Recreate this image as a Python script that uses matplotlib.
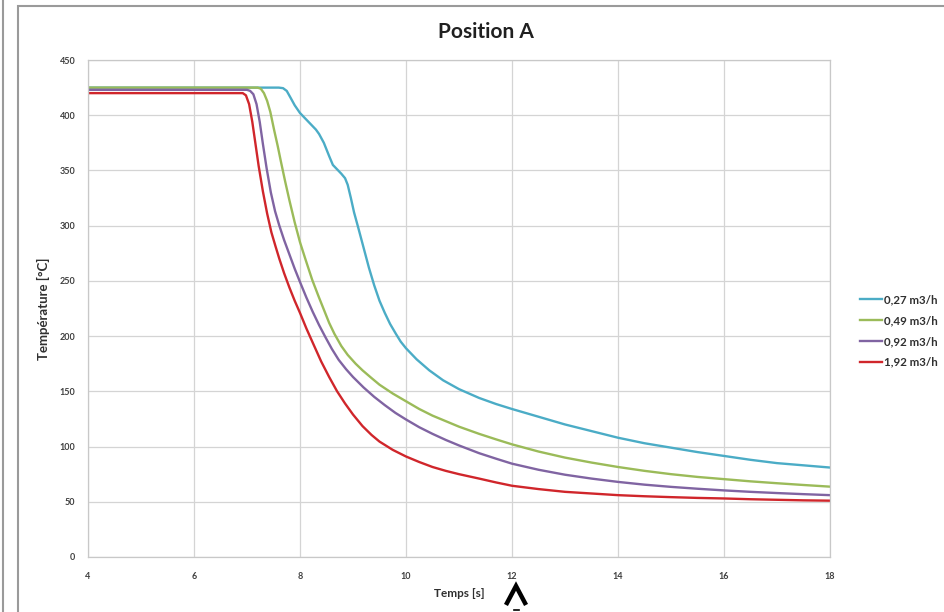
import matplotlib
matplotlib.use("Agg")
import matplotlib.pyplot as plt
from matplotlib.lines import Line2D
from matplotlib.patches import Rectangle

plt.rcParams['font.family'] = ['Lato', 'DejaVu Sans']

# ---- data ----
labels = ["0,27 m3/h", "0,49 m3/h", "0,92 m3/h", "1,92 m3/h"]
colors = ["#4BACC6", "#9BBB59", "#8064A2", "#D0262B"]

t_027 = [4, 7.6, 7.68, 7.75, 7.82, 7.9, 8.0, 8.1, 8.2, 8.3, 8.36, 8.45, 8.55, 8.62,
         8.7, 8.78, 8.85, 8.9, 8.96, 9.02, 9.1, 9.2, 9.3, 9.4, 9.5, 9.6, 9.7, 9.81,
         9.9, 10, 10.2, 10.44, 10.7, 11, 11.38, 11.7, 12, 12.5, 13, 13.5, 14, 14.5,
         15, 15.5, 16, 16.5, 17, 17.5, 18]
T_027 = [425, 425, 424.5, 422, 416, 409, 402, 397, 392, 387, 383, 375, 363, 355,
         351, 347, 343, 337, 325, 312, 298, 280, 262, 246, 232, 221, 211, 202,
         195, 189, 179, 169, 160, 152, 144, 138.5, 134, 127, 120, 114, 108, 103,
         99, 95, 91.5, 88, 85, 83, 81]

t_049 = [4, 7.2, 7.26, 7.32, 7.38, 7.44, 7.51, 7.58, 7.64, 7.72, 7.8, 7.9, 8.0, 8.1,
         8.23, 8.35, 8.45, 8.55, 8.65, 8.78, 8.9, 9.05, 9.18, 9.35, 9.5, 9.75, 10,
         10.25, 10.5, 10.75, 11, 11.38, 11.7, 12, 12.5, 13, 13.5, 14, 14.5, 15,
         15.5, 16, 16.5, 17, 17.5, 18]
T_049 = [425, 425, 424, 420, 413, 403, 387, 372, 358, 340, 323, 303, 285, 270,
         251, 236, 224, 212, 202, 191, 183, 175, 169, 162, 156, 148, 141,
         134, 128, 123, 118, 111.5, 106.5, 102, 95.5, 90, 85.5, 81.5, 78, 75,
         72.5, 70.5, 68.5, 66.8, 65.2, 63.7]

t_092 = [4, 7.0, 7.06, 7.12, 7.18, 7.24, 7.3, 7.37, 7.45, 7.53, 7.61, 7.7, 7.8, 7.9,
         8.0, 8.12, 8.24, 8.36, 8.48, 8.6, 8.73, 8.87, 9.0, 9.2, 9.4, 9.6, 9.8, 10,
         10.25, 10.5, 10.75, 11, 11.38, 11.7, 12, 12.5, 13, 13.5, 14, 14.5, 15,
         15.5, 16, 16.5, 17, 17.5, 18]
T_092 = [423, 423, 422, 419, 410, 394, 374, 352, 330, 313, 300, 287, 274, 261,
         249, 235, 222, 210, 199, 188.5, 178.5, 170, 163, 153.5, 145, 137.5, 130.5, 124.5,
         117.5, 111.5, 106, 101, 94, 89, 84.5, 79, 74.5, 71, 68, 65.5, 63.5,
         61.8, 60.3, 59, 57.9, 56.9, 56]

t_192 = [4, 6.92, 6.98, 7.04, 7.1, 7.16, 7.22, 7.3, 7.38, 7.46, 7.54, 7.61, 7.7, 7.8,
         7.9, 8.0, 8.12, 8.25, 8.4, 8.55, 8.7, 8.85, 9.0, 9.18, 9.35, 9.5, 9.75, 10,
         10.25, 10.5, 10.75, 11, 11.38, 11.7, 12, 12.5, 13, 13.5, 14, 14.5, 15,
         15.5, 16, 16.5, 17, 17.5, 18]
T_192 = [420, 420, 418, 410, 394, 374, 354, 331, 311, 294, 281, 270, 257, 244,
         232, 221, 207, 193, 177, 163, 150, 139, 129, 118.5, 110.5, 104.5, 97, 91,
         86, 81.5, 78, 75, 71, 67.5, 64.5, 61.5, 59, 57.5, 56, 55, 54.2,
         53.5, 53, 52.3, 51.8, 51.3, 51]

x_ticks = [4, 6, 8, 10, 12, 14, 16, 18]
y_ticks = [0, 50, 100, 150, 200, 250, 300, 350, 400, 450]

series = [(t_027, T_027), (t_049, T_049), (t_092, T_092), (t_192, T_192)]

W, H = 944, 612
fig = plt.figure(figsize=(W / 100, H / 100), dpi=100)
fig.patch.set_facecolor("white")

# chart frame & left bar
fig.add_artist(Rectangle((18 / W, -0.05), (W - 18) / W + 0.05, 1 - 6 / H + 0.05,
                         transform=fig.transFigure, fill=False,
                         edgecolor="#9a9a9a", linewidth=1.5))
fig.add_artist(Line2D([2.5 / W, 2.5 / W], [0, 1], transform=fig.transFigure,
                      color="#9a9a9a", linewidth=1.5))

ax = fig.add_axes([88 / W, (H - 557) / H, (830 - 88) / W, (557 - 60) / H])
for (t, T), c, lab in zip(series, colors, labels):
    ax.plot(t, T, color=c, linewidth=1.7, label=lab, solid_joinstyle="round")

ax.set_xlim(4, 18)
ax.set_ylim(0, 450)
ax.set_xticks(x_ticks)
ax.set_yticks(y_ticks)
ax.grid(True, color="#d4d4d4", linewidth=0.9)
ax.set_axisbelow(True)
for s in ax.spines.values():
    s.set_color("#c8c8c8")
    s.set_linewidth(0.9)
ax.tick_params(length=0, labelsize=6.5, colors="#404040", pad=9)
ax.tick_params(axis="x", pad=11)
for lbl in ax.get_xticklabels() + ax.get_yticklabels():
    lbl.set_fontweight("bold")

ax.set_xlabel("Temps [s]", fontsize=8.5, fontweight="bold", color="#303030", labelpad=5)
ax.set_ylabel("Température [°C]", fontsize=9.5, fontweight="bold", color="#303030", labelpad=7)

fig.text(486 / W, 1 - 32 / H, "Position A", ha="center", va="center",
         fontsize=15, fontweight="bold", color="#202020")

leg = ax.legend(loc="center left", bbox_to_anchor=(850 / W, 1 - 331 / H),
                bbox_transform=fig.transFigure, frameon=False, fontsize=8.3,
                handlelength=1.9, handletextpad=0.15, labelspacing=0.85)
for txt in leg.get_texts():
    txt.set_fontweight("bold")
    txt.set_color("#303030")

# arrow marker under the axis
fig.add_artist(Line2D([507 / W, 516 / W, 525 / W],
                      [1 - 603 / H, 1 - 586 / H, 1 - 603 / H],
                      transform=fig.transFigure, color="black", linewidth=3.2,
                      solid_joinstyle="miter"))
fig.add_artist(Line2D([514 / W, 519 / W], [1 - 610 / H, 1 - 610 / H],
                      transform=fig.transFigure, color="black", linewidth=1.2))

fig.savefig("out.png", dpi=100, facecolor="white")
